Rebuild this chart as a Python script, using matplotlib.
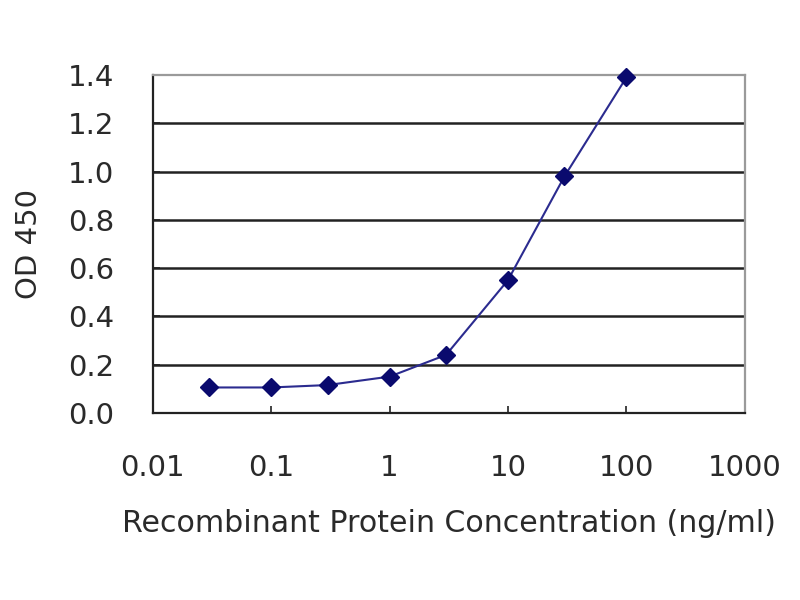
import matplotlib
matplotlib.use('Agg')
import matplotlib.pyplot as plt

# ELISA standard curve
concentration = [0.03, 0.1, 0.3, 1, 3, 10, 30, 100]
od450 = [0.105, 0.105, 0.115, 0.15, 0.24, 0.55, 0.98, 1.39]

x_ticks = [0.01, 0.1, 1, 10, 100, 1000]
x_tick_labels = ['0.01', '0.1', '1', '10', '100', '1000']
y_ticks = [0.0, 0.2, 0.4, 0.6, 0.8, 1.0, 1.2, 1.4]
y_tick_labels = ['0.0', '0.2', '0.4', '0.6', '0.8', '1.0', '1.2', '1.4']

plt.rcParams['font.family'] = ['DejaVu Sans']
text_color = '#2a2a2a'
font_size = 21

fig = plt.figure(figsize=(8, 6), dpi=100)
ax = fig.add_axes([0.191, 0.312, 0.740, 0.563])

ax.set_xscale('log')
ax.set_xlim(0.01, 1000)
ax.set_ylim(0, 1.4)

# gridlines (black, Excel style)
for y in y_ticks[1:-1]:
    ax.axhline(y, color='#222222', linewidth=1.8, zorder=1)

ax.plot(concentration, od450, color='#2b2b8f', linewidth=1.5,
        marker='D', markersize=9, markerfacecolor='#0a0a6e',
        markeredgecolor='#0a0a6e', zorder=3, clip_on=False)

ax.set_xticks(x_ticks)
ax.set_xticklabels(x_tick_labels)
ax.set_yticks(y_ticks)
ax.set_yticklabels(y_tick_labels)
ax.minorticks_off()
ax.tick_params(axis='both', direction='in', length=5, width=1.2,
               colors='#222222', labelcolor=text_color, labelsize=font_size)
ax.tick_params(axis='x', pad=30)
ax.tick_params(axis='y', pad=28)

for side in ['left', 'bottom']:
    ax.spines[side].set_color('#222222')
    ax.spines[side].set_linewidth(1.6)
for side in ['top', 'right']:
    ax.spines[side].set_color('#9a9a9a')
    ax.spines[side].set_linewidth(1.6)

ax.set_xlabel('Recombinant Protein Concentration (ng/ml)', fontsize=21.6,
              color=text_color)
ax.set_ylabel('OD 450', fontsize=font_size, color=text_color)
ax.xaxis.set_label_coords(0.50, -0.285)
ax.yaxis.set_label_coords(-0.185, 0.50)

fig.savefig('out.png', dpi=100, facecolor='white')
